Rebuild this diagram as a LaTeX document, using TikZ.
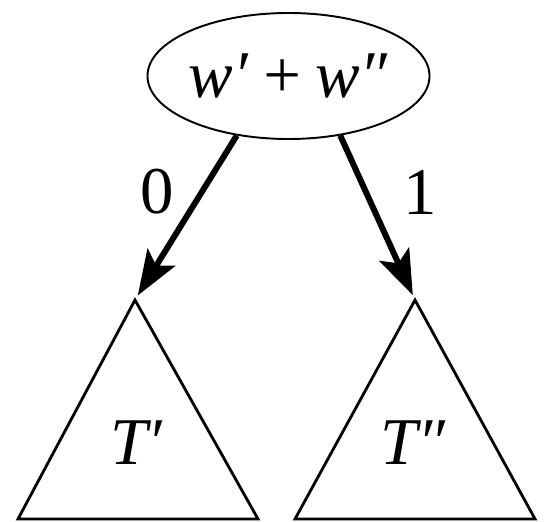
\documentclass[tikz,border=0pt]{standalone}
\usepackage{fontspec}
\setmainfont{Liberation Serif}
\usepackage{tikz}
\usetikzlibrary{arrows.meta,shapes.geometric}

\begin{document}
\begin{tikzpicture}[font=\fontsize{38}{40}\selectfont,
  edge/.style={line width=3.4pt,-{Stealth[length=9mm,width=6.5mm,inset=2mm]},shorten >=3pt},
  subtree/.style={line width=1.6pt,line join=miter}]
\useasboundingbox (0,0) rectangle (11.04,10.42);
\node[draw,ellipse,line width=1.1pt,minimum width=5.34cm,minimum height=2.52cm,inner sep=0pt] (root) at (5.77,8.9) {\textit{w′\,+\,w″}};
% the two subtrees
\coordinate (lt) at (2.70,4.42);
\coordinate (rt) at (8.30,4.42);
\draw[subtree] (lt)--(0.36,0.04)--(5.16,0.04)--cycle;
\draw[subtree] (rt)--(5.90,0.04)--(10.70,0.04)--cycle;
\node (tl) at (2.74,1.56) {\textit{T′}};
\node (tr) at (8.26,1.56) {\textit{T″}};
% edges
\draw[edge] (root.229)--(lt);
\draw[edge] (root.311)--(rt);
\node (zero) at (3.14,6.58) {0};
\node (one) at (8.40,6.58) {1};
\end{tikzpicture}
\end{document}
